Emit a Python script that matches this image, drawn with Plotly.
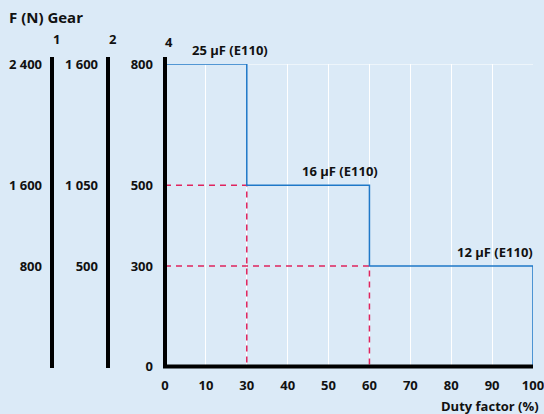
import numpy as np
import plotly.graph_objects as go

# ---------------- data ----------------
duty_ticks = [0, 10, 30, 40, 50, 60, 70, 80, 90, 100]          # x tick labels (%)
force_levels = [0, 300, 500, 800]                               # gear 4 force (N)
force_text = ["0", "300", "500", "800"]
gear_levels = [300, 500, 800]
gear1_text = ["800", "1 600", "2 400"]
gear2_text = ["500", "1 050", "1 600"]
gear_names = ["1", "2", "4"]

step_duty = [0, 30, 30, 60, 60, 100, 100]
step_force = [800, 800, 500, 500, 300, 300, 0]

ref1_duty = [0, 30, 30]
ref1_force = [500, 500, 0]
ref2_duty = [0, 60, 60]
ref2_force = [300, 300, 0]

cap_labels = ["25 µF (E110)", "16 µF (E110)", "12 µF (E110)"]
cap_force = [800, 500, 300]

# ------------- axis scales (non-linear as in the drawing) -------------
Y_DISPLAY = [0, 265, 479, 800]


def fy(v):
    return np.interp(v, force_levels, Y_DISPLAY)


def fx(v):
    return np.interp(v, duty_ticks, np.arange(len(duty_ticks)))


W, H = 544, 414
BG = "#dbeaf7"
BLUE = "#1f78c8"
RED = "#e0245e"
FONT = "Open Sans"


def px(x):
    return x / W


def py(y):
    return 1 - y / H


fig = go.Figure()

for xd, yd in [(ref1_duty, ref1_force), (ref2_duty, ref2_force)]:
    fig.add_trace(go.Scatter(x=fx(xd), y=fy(yd), mode="lines",
                             line=dict(color=RED, width=1.5, dash="6px,5px"),
                             hoverinfo="skip", showlegend=False))

fig.add_trace(go.Scatter(x=fx(step_duty), y=fy(step_force), mode="lines",
                         line=dict(color=BLUE, width=1.5), showlegend=False))

tickfont = dict(family=FONT, size=13, color="#111111", weight="bold")

fig.update_layout(
    width=W, height=H,
    margin=dict(l=0, r=0, t=0, b=0, pad=0, autoexpand=False),
    paper_bgcolor=BG, plot_bgcolor=BG,
    showlegend=False,
    xaxis=dict(domain=[px(165), px(533)], range=[0, len(duty_ticks) - 1],
               tickvals=list(range(len(duty_ticks))),
               ticktext=[str(v) for v in duty_ticks],
               showgrid=True, gridcolor="white", gridwidth=1,
               zeroline=False, showline=False, ticks="", automargin=False,
               ticklabeloverflow="allow",
               ticklabelstandoff=10, tickfont=tickfont),
    yaxis=dict(domain=[py(366), py(64)], range=[0, 800],
               tickvals=list(fy(force_levels)), ticktext=force_text,
               showgrid=False, zeroline=False, showline=False, ticks="",
               ticklabeloverflow="allow",
               automargin=False, ticklabelstandoff=11, tickfont=tickfont),
    yaxis2=dict(overlaying="y", anchor="free", position=px(52), side="left",
                range=[0, 800], tickvals=list(fy(gear_levels)), ticktext=gear1_text,
                showgrid=False, zeroline=False, showline=False, ticks="",
                ticklabeloverflow="allow",
                automargin=False, ticklabelstandoff=10, tickfont=tickfont),
    yaxis3=dict(overlaying="y", anchor="free", position=px(108), side="left",
                range=[0, 800], tickvals=list(fy(gear_levels)), ticktext=gear2_text,
                showgrid=False, zeroline=False, showline=False, ticks="",
                ticklabeloverflow="allow",
                automargin=False, ticklabelstandoff=10, tickfont=tickfont),
)

# dummy traces to activate the gear axes
fig.add_trace(go.Scatter(x=[None], y=[None], yaxis="y2", showlegend=False))
fig.add_trace(go.Scatter(x=[None], y=[None], yaxis="y3", showlegend=False))

# axis bars
shapes = []
for xpix in [52, 108, 165]:
    shapes.append(dict(type="line", xref="paper", yref="paper",
                       x0=px(xpix), x1=px(xpix), y0=py(57), y1=py(368),
                       line=dict(color="black", width=4)))
shapes.append(dict(type="line", xref="paper", yref="paper",
                   x0=px(163), x1=px(533), y0=py(366.5), y1=py(366.5),
                   line=dict(color="black", width=4)))
# top white border
shapes.append(dict(type="line", xref="x", yref="y", x0=0, x1=len(duty_ticks) - 1,
                   y0=800, y1=800, line=dict(color="white", width=1), layer="below"))
fig.update_layout(shapes=shapes)

annfont = dict(family=FONT, size=13, color="#111111", weight="bold")
ann = []
# curve labels
cap_x = [1.6, 4.28, 8.07]
for lab, xf, yv in zip(cap_labels, cap_x, cap_force):
    ann.append(dict(x=xf, y=fy(yv), xref="x", yref="y", text=lab, showarrow=False,
                    font=annfont, yshift=14, yanchor="middle"))
# gear headers
for name, xpix, ypix in zip(gear_names, [51, 107, 163], [39, 39, 42]):
    ann.append(dict(x=px(xpix), y=py(ypix), xref="paper", yref="paper", text=name,
                    showarrow=False, font=annfont, yanchor="middle"))
ann.append(dict(x=px(7), y=py(17), xref="paper", yref="paper", text="F (N) Gear",
                showarrow=False, xanchor="left", yanchor="middle",
                font=dict(family=FONT, size=15, color="#111111", weight="bold")))
ann.append(dict(x=px(541), y=py(406), xref="paper", yref="paper", text="Duty factor (%)",
                showarrow=False, xanchor="right", yanchor="middle",
                font=dict(family=FONT, size=13, color="#111111", weight="bold")))
fig.update_layout(annotations=ann)

fig.write_html("out.html", config={"displayModeBar": False},
               post_script="document.body.style.margin='0';")
